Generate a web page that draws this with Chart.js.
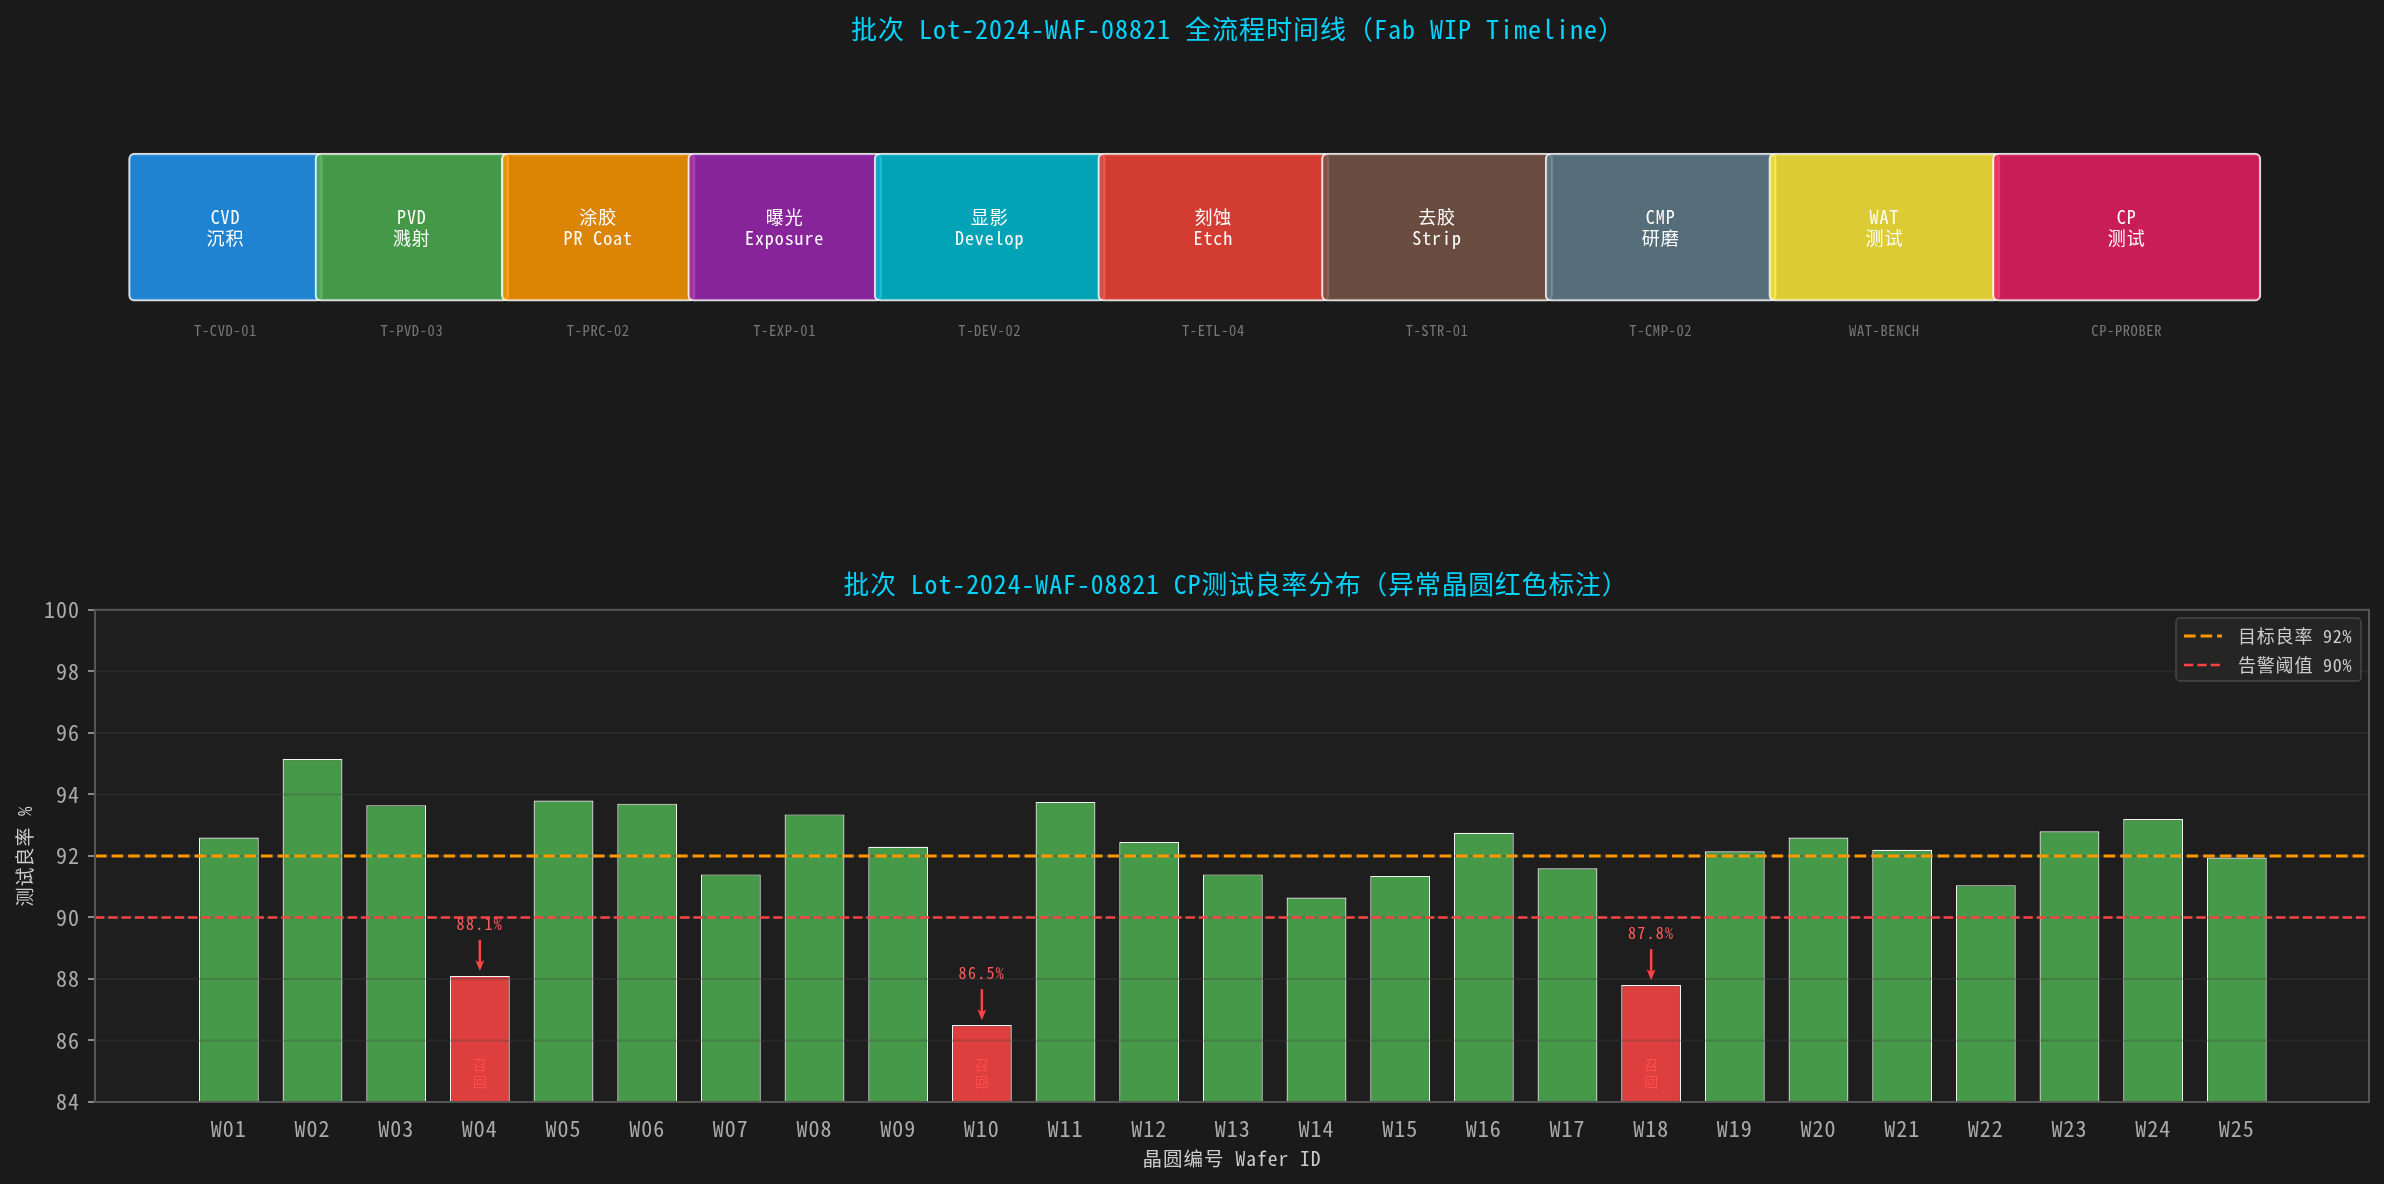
<!DOCTYPE html>
<html>
<head>
<meta charset="utf-8">
<title>Lot-2024-WAF-08821</title>
<script src="https://cdn.jsdelivr.net/npm/chart.js@4"></script>
<style>
    html, body { margin: 0; padding: 0; background: #1a1a1a; }
    canvas { position: absolute; left: 0; display: block; }
    #timelineChart { top: 0; }
    #yieldChart { top: 560px; }
</style>
</head>
<body>
<canvas id="timelineChart" width="2384" height="560"></canvas>
<canvas id="yieldChart" width="2384" height="624"></canvas>
<script>
// ----------------------
//  DATA
// ----------------------
const stageLine1 = ['CVD', 'PVD', '涂胶', '曝光', '显影', '刻蚀', '去胶', 'CMP', 'WAT', 'CP'];
const stageLine2 = ['沉积', '溅射', 'PR Coat', 'Exposure', 'Develop', 'Etch', 'Strip', '研磨', '测试', '测试'];
const stageTools = ['T-CVD-01', 'T-PVD-03', 'T-PRC-02', 'T-EXP-01', 'T-DEV-02', 'T-ETL-04', 'T-STR-01', 'T-CMP-02', 'WAT-BENCH', 'CP-PROBER'];
const stageStart = [0, 2.5, 5, 7.5, 10, 13, 16, 19, 22, 25];
const stageEnd = [2.5, 5, 7.5, 10, 13, 16, 19, 22, 25, 28.5];
const stageColors = ['#2196F3', '#4CAF50', '#FF9800', '#9C27B0', '#00BCD4', '#F44336', '#795548', '#607D8B', '#FFEB3B', '#E91E63'];

const waferIds = ['W01', 'W02', 'W03', 'W04', 'W05', 'W06', 'W07', 'W08', 'W09', 'W10', 'W11', 'W12', 'W13',
    'W14', 'W15', 'W16', 'W17', 'W18', 'W19', 'W20', 'W21', 'W22', 'W23', 'W24', 'W25'];
const waferYield = [92.6, 95.15, 93.65, 88.1, 93.8, 93.7, 91.4, 93.35, 92.3, 86.5, 93.75, 92.45, 91.4,
    90.65, 91.35, 92.75, 91.6, 87.8, 92.15, 92.6, 92.2, 91.05, 92.8, 93.2, 91.95];
const targetYield = 92;
const alarmYield = 90;
const targetLabel = '目标良率 92%';
const alarmLabel = '告警阈值 90%';

// ----------------------
//  GENERAL
// ----------------------
const FONT = '"Noto Sans Mono CJK SC", "Noto Sans CJK SC", "DejaVu Sans Mono", monospace';
const PLOT_BG = '#1e1e1e';
const XMIN = -1.6;
const XMAX = 25.58;

Chart.defaults.animation = false;
Chart.defaults.responsive = false;
Chart.defaults.font.family = FONT;

function fontStr(size) {
    return `${size}px ${FONT}`;
}

function hexAlpha(hex, a) {
    const n = parseInt(hex.slice(1), 16);
    return `rgba(${n >> 16}, ${(n >> 8) & 255}, ${n & 255}, ${a})`;
}

//  The reference font has slightly wider latin letters
const spacingPlugin = {
    id: 'spacing',
    beforeDraw(chart) {
        chart.ctx.letterSpacing = '1px';
    }
};

//  Nudge the title sideways
function titleShift(dx) {
    return {
        id: 'titleShift',
        afterLayout(chart) {
            chart.titleBlock.left += dx;
            chart.titleBlock.right += dx;
        }
    };
}

// ----------------------
//  TIMELINE
// ----------------------
const PAD = 0.05;

const stageTextPlugin = {
    id: 'stageText',
    afterDatasetsDraw(chart) {
        const ctx = chart.ctx;
        const x = chart.scales.x;
        ctx.save();
        ctx.textAlign = 'center';
        ctx.textBaseline = 'middle';
        stageLine1.forEach((line, i) => {
            const cx = x.getPixelForValue((stageStart[i] + stageEnd[i]) / 2);
            ctx.fillStyle = '#ffffff';
            ctx.font = fontStr(18);
            ctx.letterSpacing = '0.9px';
            ctx.fillText(line, cx, 217);
            ctx.fillText(stageLine2[i], cx, 238);
            ctx.fillStyle = '#777777';
            ctx.font = fontStr(14.5);
            ctx.letterSpacing = '0.6px';
            ctx.fillText(stageTools[i], cx, 330);
        });
        ctx.restore();
    }
};

new Chart(document.getElementById('timelineChart'), {
    type: 'bar',
    data: {
        labels: ['Lot'],
        datasets: stageLine1.map((name, i) => ({
            label: name,
            data: [[stageStart[i] - PAD, stageEnd[i] + PAD]],
            backgroundColor: hexAlpha(stageColors[i], 0.85),
            borderColor: 'rgba(255, 255, 255, 0.85)',
            borderWidth: 2,
            borderSkipped: false,
            borderRadius: 6,
            barThickness: 148,
            order: stageLine1.length - i,
        })),
    },
    options: {
        indexAxis: 'y',
        layout: { padding: { left: 95, right: 15, bottom: 164 } },
        plugins: {
            legend: { display: false },
            tooltip: { enabled: false },
            title: {
                display: true,
                fullSize: false,
                text: '批次 Lot-2024-WAF-08821 全流程时间线（Fab WIP Timeline）',
                color: '#00d4ff',
                font: { size: 26, weight: 'normal', lineHeight: 1.2 },
                padding: { top: 14, bottom: 13 },
            },
        },
        scales: {
            x: { display: false, min: -0.5, max: 30 },
            y: { display: false, stacked: true, grid: { display: false } },
        },
    },
    plugins: [spacingPlugin, titleShift(6), stageTextPlugin],
});

// ----------------------
//  YIELD CHART
// ----------------------
const plotFramePlugin = {
    id: 'plotFrame',
    beforeDraw(chart) {
        const { ctx, chartArea: a } = chart;
        ctx.save();
        ctx.fillStyle = PLOT_BG;
        ctx.fillRect(a.left, a.top, a.width, a.height);
        ctx.restore();
    },
    afterDraw(chart) {
        const { ctx, chartArea: a } = chart;
        ctx.save();
        ctx.strokeStyle = '#555555';
        ctx.lineWidth = 2;
        ctx.strokeRect(a.left, a.top, a.width, a.height);
        ctx.restore();
    }
};

//  GRID ON TOP OF THE BARS BUT UNDER THE THRESHOLD LINES
const gridOverBarsPlugin = {
    id: 'gridOverBars',
    beforeDatasetDraw(chart, args) {
        if (args.index !== 1) return;
        const { ctx, chartArea: a } = chart;
        const y = chart.scales.y;
        ctx.save();
        ctx.strokeStyle = 'rgba(68, 68, 68, 0.3)';
        ctx.lineWidth = 2;
        y.ticks.forEach(tick => {
            const py = y.getPixelForValue(tick.value);
            ctx.beginPath();
            ctx.moveTo(a.left, py);
            ctx.lineTo(a.right, py);
            ctx.stroke();
        });
        ctx.restore();
    }
};

//  ANOMALY ARROWS AND LABELS
const anomalyPlugin = {
    id: 'anomaly',
    afterDatasetsDraw(chart) {
        const ctx = chart.ctx;
        const x = chart.scales.x;
        const y = chart.scales.y;
        ctx.save();
        ctx.textAlign = 'center';
        ctx.textBaseline = 'middle';
        waferYield.forEach((value, i) => {
            if (value >= alarmYield) return;
            const cx = x.getPixelForValue(i);
            const tail = y.getPixelForValue(value + 1.17);
            const tip = y.getPixelForValue(value + 0.16);
            ctx.strokeStyle = '#ff4444';
            ctx.fillStyle = '#ff4444';
            ctx.lineWidth = 2.5;
            ctx.beginPath();
            ctx.moveTo(cx, tail);
            ctx.lineTo(cx, tip - 6);
            ctx.stroke();
            ctx.beginPath();
            ctx.moveTo(cx, tip);
            ctx.lineTo(cx - 4.5, tip - 11);
            ctx.lineTo(cx, tip - 8);
            ctx.lineTo(cx + 4.5, tip - 11);
            ctx.closePath();
            ctx.fill();

            ctx.fillStyle = '#ff5c5c';
            ctx.font = fontStr(16);
            ctx.letterSpacing = '1.3px';
            ctx.fillText(value.toFixed(1) + '%', cx, y.getPixelForValue(value + 1.7));

            ctx.fillStyle = '#ff4d4d';
            ctx.font = fontStr(14);
            ctx.letterSpacing = '0px';
            ctx.fillText('召', cx, y.getPixelForValue(85.2));
            ctx.fillText('回', cx, y.getPixelForValue(84.65));
        });
        ctx.restore();
    }
};

//  LEGEND
const legendBoxPlugin = {
    id: 'legendBox',
    afterDraw(chart) {
        const ctx = chart.ctx;
        ctx.save();
        ctx.fillStyle = '#252525';
        ctx.strokeStyle = '#484848';
        ctx.lineWidth = 1.5;
        ctx.beginPath();
        ctx.roundRect(2176, 58, 185, 63, 4);
        ctx.fill();
        ctx.stroke();

        ctx.textAlign = 'left';
        ctx.textBaseline = 'middle';
        ctx.font = fontStr(18);
        ctx.letterSpacing = '0.8px';
        [
            { label: targetLabel, color: '#ff9800', y: 76, w: 3, dash: [11.6, 5] },
            { label: alarmLabel, color: '#ff4444', y: 105, w: 2.5, dash: [9.3, 4] },
        ].forEach(row => {
            ctx.strokeStyle = row.color;
            ctx.lineWidth = row.w;
            ctx.setLineDash(row.dash);
            ctx.beginPath();
            ctx.moveTo(2184, row.y);
            ctx.lineTo(2222, row.y);
            ctx.stroke();
            ctx.setLineDash([]);
            ctx.fillStyle = '#cccccc';
            ctx.fillText(row.label, 2238, row.y);
        });
        ctx.restore();
    }
};

function lineDataset(label, value, color, width, dash) {
    return {
        type: 'line',
        label: label,
        data: [{ x: XMIN, y: value }, { x: XMAX, y: value }],
        borderColor: color,
        borderWidth: width,
        borderDash: dash,
        pointRadius: 0,
        order: 0,
    };
}

new Chart(document.getElementById('yieldChart'), {
    type: 'bar',
    data: {
        datasets: [
            lineDataset(targetLabel, targetYield, '#ff9800', 3, [11.6, 5]),
            lineDataset(alarmLabel, alarmYield, '#ff4444', 2.5, [9.3, 4]),
            {
                label: 'CP',
                data: waferYield.map((v, i) => ({ x: i, y: v })),
                backgroundColor: waferYield.map(v => v < alarmYield ? 'rgba(255, 68, 68, 0.85)' : 'rgba(76, 175, 80, 0.85)'),
                borderColor: 'rgba(255, 255, 255, 0.95)',
                borderWidth: 1.2,
                barPercentage: 0.715,
                categoryPercentage: 1,
                order: 1,
            },
        ],
    },
    options: {
        layout: { padding: { right: 15 } },
        plugins: {
            legend: { display: false },
            tooltip: { enabled: false },
            title: {
                display: true,
                fullSize: false,
                text: '批次 Lot-2024-WAF-08821 CP测试良率分布（异常晶圆红色标注）',
                color: '#00d4ff',
                font: { size: 25.7, weight: 'normal', lineHeight: 1.2 },
                padding: { top: 9, bottom: 10 },
            },
        },
        scales: {
            x: {
                type: 'linear',
                min: XMIN,
                max: XMAX,
                offset: false,
                grid: { display: false, drawTicks: true, tickColor: '#888888', tickLength: 7 },
                border: { display: false },
                title: {
                    display: true,
                    text: '晶圆编号 Wafer ID',
                    color: '#cccccc',
                    font: { size: 19.5 },
                    padding: { top: 2, bottom: 14 },
                },
                ticks: {
                    color: '#aaaaaa',
                    font: { size: 22 },
                    autoSkip: false,
                    maxRotation: 0,
                    stepSize: 1,
                    includeBounds: false,
                    padding: 6,
                    callback: value => waferIds[value],
                },
                afterBuildTicks(scale) {
                    scale.ticks = waferIds.map((id, i) => ({ value: i }));
                },
                afterFit(scale) {
                    scale.height = 82;
                },
            },
            y: {
                min: 84,
                max: 100,
                grid: { drawOnChartArea: false, tickColor: '#888888', tickLength: 7, lineWidth: 2 },
                border: { display: false },
                title: {
                    display: true,
                    text: '测试良率 %',
                    color: '#cccccc',
                    font: { size: 19 },
                    padding: { top: 13, bottom: 4 },
                },
                ticks: {
                    color: '#aaaaaa',
                    font: { size: 22 },
                    stepSize: 2,
                    padding: 8,
                },
                afterFit(scale) {
                    scale.width = 95;
                },
            },
        },
    },
    plugins: [spacingPlugin, titleShift(4), plotFramePlugin, gridOverBarsPlugin, anomalyPlugin, legendBoxPlugin],
});
</script>
</body>
</html>
